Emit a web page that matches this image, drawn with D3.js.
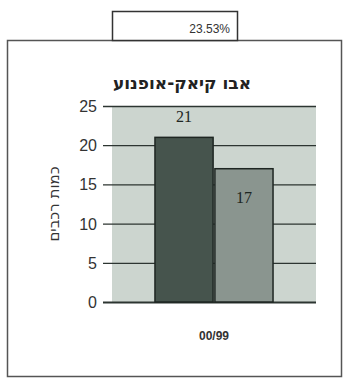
<!DOCTYPE html>
<html><head><meta charset="utf-8">
<script src="https://cdn.jsdelivr.net/npm/d3@7"></script>
<style>body{margin:0;background:#fff;}svg{display:block;}</style>
</head><body><svg id="c" width="349" height="379"></svg>
<script>
const categories = ["00/99"];
const seriesNames = ["s1", "s2"];
const seriesValues = [21, 17];
const yTicks = [0, 5, 10, 15, 20, 25];
const title = "אבו קיאק-אופנוע";
const yTitle = "כמות רכבים";
const boxText = "23.53%";

const svg = d3.select("#c");
const plot = {left: 112, right: 316, top: 106, bottom: 302};
const y = d3.scaleLinear().domain([0, 25]).range([plot.bottom, plot.top]);
const x = d3.scaleBand().domain(categories).range([plot.left, plot.right]).paddingInner(0).paddingOuter(0.364);
const xs = d3.scaleBand().domain(seriesNames).range([0, x.bandwidth()]).paddingInner(0.03);

// outer frame
svg.append("rect").attr("x", 7.5).attr("y", 40.5).attr("width", 334).attr("height", 336)
  .attr("fill", "#fff").attr("stroke", "#555").attr("stroke-width", 1.5);
// top box
svg.append("rect").attr("x", 112.5).attr("y", 11.5).attr("width", 125).attr("height", 29)
  .attr("fill", "#fff").attr("stroke", "#333").attr("stroke-width", 1.5);
svg.append("text").attr("x", 230).attr("y", 33).attr("text-anchor", "end")
  .attr("font-family", "Liberation Sans, Arial, sans-serif").attr("font-size", 12).attr("fill", "#333").text(boxText);

// title
svg.append("text").attr("x", 182).attr("y", 89).attr("text-anchor", "middle").attr("direction", "rtl")
  .attr("font-family", "DejaVu Sans, sans-serif").attr("font-weight", "bold").attr("font-size", 17).attr("fill", "#222").text(title);

// plot bg
svg.append("rect").attr("x", plot.left).attr("y", plot.top).attr("width", plot.right - plot.left).attr("height", plot.bottom - plot.top)
  .attr("fill", "#ccd5cf");

// gridlines
svg.append("g").selectAll("line").data(yTicks).join("line")
  .attr("x1", plot.left - 9).attr("x2", plot.right).attr("y1", d => y(d) + 0.5).attr("y2", d => y(d) + 0.5)
  .attr("stroke", "#2c3531").attr("stroke-width", d => d === 0 ? 2 : 1.3);

// y tick labels
svg.append("g").selectAll("text").data(yTicks).join("text")
  .attr("x", 97).attr("y", d => y(d) + 6).attr("text-anchor", "end")
  .attr("font-family", "Liberation Sans, Arial, sans-serif").attr("font-size", 16).attr("fill", "#333").text(d => d);

// bars
const colors = ["#46544d", "#8a958f"];
const g = svg.append("g").attr("transform", `translate(${x(categories[0])},0)`);
g.selectAll("rect").data(seriesValues).join("rect")
  .attr("x", (d, i) => xs(seriesNames[i])).attr("width", xs.bandwidth())
  .attr("y", d => y(d)).attr("height", d => plot.bottom - y(d))
  .attr("fill", (d, i) => colors[i]).attr("stroke", "#1e2622").attr("stroke-width", 1.5);

// data labels
const labelY = [y(seriesValues[0]) - 15, y(seriesValues[1]) + 34];
g.selectAll("text").data(seriesValues).join("text")
  .attr("x", (d, i) => xs(seriesNames[i]) + xs.bandwidth() / 2).attr("y", (d, i) => labelY[i])
  .attr("text-anchor", "middle").attr("font-family", "Liberation Serif, serif").attr("font-size", 16).attr("fill", "#1e2622").text(d => d);

// x label
svg.append("g").selectAll("text").data(categories).join("text")
  .attr("x", d => x(d) + x.bandwidth() / 2).attr("y", 340).attr("text-anchor", "middle")
  .attr("font-family", "Liberation Sans, Arial, sans-serif").attr("font-size", 12).attr("font-weight", "bold").attr("fill", "#333").text(d => d);

// y title
svg.append("text").attr("transform", "translate(59,204) rotate(-90)").attr("text-anchor", "middle").attr("direction", "rtl")
  .attr("font-family", "DejaVu Sans, sans-serif").attr("font-size", 15).attr("fill", "#333").text(yTitle);
</script></body></html>
